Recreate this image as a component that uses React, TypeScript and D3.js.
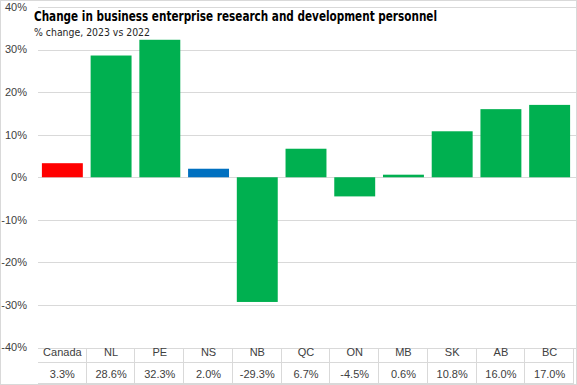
import { useRef, useEffect } from "react";
import * as d3 from "d3";

const categories = ["Canada", "NL", "PE", "NS", "NB", "QC", "ON", "MB", "SK", "AB", "BC"];
const values = [3.3, 28.6, 32.3, 2.0, -29.3, 6.7, -4.5, 0.6, 10.8, 16.0, 17.0];
const valueLabels = ["3.3%", "28.6%", "32.3%", "2.0%", "-29.3%", "6.7%", "-4.5%", "0.6%", "10.8%", "16.0%", "17.0%"];
const yTicks = [-40, -30, -20, -10, 0, 10, 20, 30, 40];

const title = "Change in business enterprise research and development personnel";
const subtitle = "% change, 2023 vs 2022";

function barColour(name: string) {
    if (name === "Canada") return "#ff0000";
    if (name === "NS") return "#0070c0";
    return "#00b050";
}

const W = 577;
const H = 385;
const margin = { top: 7, left: 38, right: 3, bottom: 37.5 };

function App() {
    const ref = useRef<SVGSVGElement>(null);

    useEffect(() => {
        const svg = d3.select(ref.current);
        svg.selectAll("*").remove();

        const x = d3.scaleBand()
            .domain(categories)
            .range([margin.left, W - margin.right])
            .padding(0);
        const y = d3.scaleLinear()
            .domain([-40, 40])
            .range([H - margin.bottom, margin.top]);

        const font = "'Liberation Sans', Arial, sans-serif";
        const textCol = "#404040";
        const gridCol = "#d9d9d9";

        // outer border
        svg.append("rect")
            .attr("x", 0.5).attr("y", 0.5)
            .attr("width", W - 1).attr("height", H - 1)
            .attr("fill", "#fff").attr("stroke", gridCol);

        // gridlines + y labels
        const g = svg.append("g");
        g.selectAll("line.grid")
            .data(yTicks)
            .join("line")
            .attr("x1", margin.left).attr("x2", W - 1)
            .attr("y1", d => Math.round(y(d)) + 0.5)
            .attr("y2", d => Math.round(y(d)) + 0.5)
            .attr("stroke", gridCol);
        g.selectAll("text.tick")
            .data(yTicks)
            .join("text")
            .attr("x", 27)
            .attr("y", d => y(d))
            .attr("dy", "0.35em")
            .attr("text-anchor", "end")
            .attr("font-family", font)
            .attr("font-size", 11)
            .attr("fill", textCol)
            .text(d => `${d}%`);

        // bars
        const bw = x.bandwidth() * 0.84;
        svg.append("g")
            .selectAll("rect")
            .data(categories)
            .join("rect")
            .attr("x", (d) => x(d)! + (x.bandwidth() - bw) / 2)
            .attr("y", (_, i) => y(Math.max(0, values[i])))
            .attr("width", bw)
            .attr("height", (_, i) => Math.abs(y(values[i]) - y(0)))
            .attr("fill", d => barColour(d));

        // data table
        const tTop = Math.round(y(-40)) + 0.5;
        const tMid = 362.5;
        const tBot = 383.5;
        const t = svg.append("g");
        t.selectAll("line.h")
            .data([tMid, tBot])
            .join("line")
            .attr("x1", margin.left).attr("x2", W - margin.right)
            .attr("y1", d => d).attr("y2", d => d)
            .attr("stroke", gridCol);
        const bounds = categories.slice(1).map(c => x(c)!).concat([W - margin.right]);
        t.selectAll("line.v")
            .data(bounds)
            .join("line")
            .attr("x1", d => Math.round(d) - 0.5).attr("x2", d => Math.round(d) - 0.5)
            .attr("y1", tTop).attr("y2", tBot)
            .attr("stroke", gridCol);
        t.selectAll("text.cat")
            .data(categories)
            .join("text")
            .attr("x", d => x(d)! + x.bandwidth() / 2)
            .attr("y", 352.5)
            .attr("dy", "0.35em")
            .attr("text-anchor", "middle")
            .attr("font-family", font)
            .attr("font-size", 11)
            .attr("fill", textCol)
            .text(d => d);
        t.selectAll("text.val")
            .data(categories)
            .join("text")
            .attr("x", d => x(d)! + x.bandwidth() / 2)
            .attr("y", 374.5)
            .attr("dy", "0.35em")
            .attr("text-anchor", "middle")
            .attr("font-family", font)
            .attr("font-size", 11)
            .attr("fill", textCol)
            .text((_, i) => valueLabels[i]);

        // title
        const narrow = "'Liberation Sans Narrow', 'DejaVu Sans Condensed', 'Roboto', sans-serif";
        svg.append("text")
            .attr("x", 34).attr("y", 21)
            .attr("font-family", narrow)
            .attr("font-weight", "bold")
            .attr("font-size", 14.5)
            .attr("textLength", 403)
            .attr("lengthAdjust", "spacingAndGlyphs")
            .attr("fill", "#000")
            .text(title);
        svg.append("text")
            .attr("x", 34).attr("y", 36)
            .attr("font-family", narrow)
            .attr("font-size", 11)
            .attr("textLength", 116)
            .attr("lengthAdjust", "spacingAndGlyphs")
            .attr("fill", "#262626")
            .text(subtitle);
    }, []);

    return (
        <svg ref={ref} width={W} height={H} style={{ position: "absolute", left: 0, top: 0, display: "block" }}>
        </svg>
    );
}

export default App;
